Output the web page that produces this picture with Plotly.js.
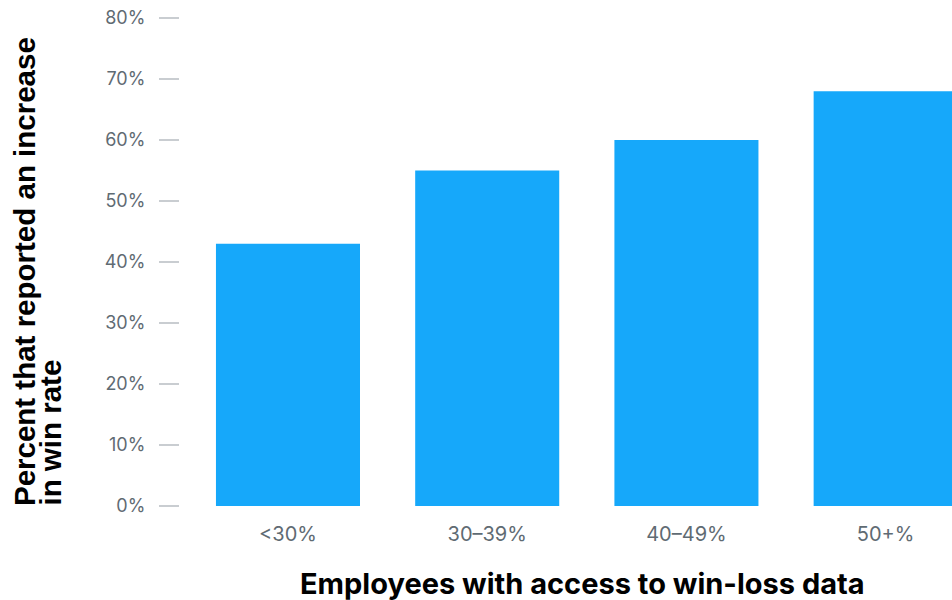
<!DOCTYPE html>
<html>
<head>
<meta charset="utf-8">
<script src="https://cdn.plot.ly/plotly-3.0.1.min.js"></script>
<style>html,body{margin:0;padding:0;background:#fff;}#chart{width:952px;height:600px;}</style>
</head>
<body>
<div id="chart"></div>
<script>
const categories = ["<30%", "30–39%", "40–49%", "50+%"];
const values = [43, 55, 60, 68];
const yTickVals = [0, 10, 20, 30, 40, 50, 60, 70, 80];
const yTickText = ["0%", "10%", "20%", "30%", "40%", "50%", "60%", "70%", "80%"];
const xTitle = "Employees with access to win-loss data";
const yTitleLines = ["Percent that reported an increase", "in win rate"];

const trace = {
  type: "bar",
  x: categories,
  y: values,
  marker: {color: "#16A8FA"},
  hoverinfo: "none"
};

const layout = {
  width: 952, height: 600,
  margin: {l: 180, r: 0, t: 18, b: 94},
  paper_bgcolor: "#fff", plot_bgcolor: "#fff",
  bargap: 0.277,
  showlegend: false,
  font: {family: "Inter, sans-serif", color: "#5f6b73", size: 18},
  xaxis: {
    type: "category",
    range: [-0.542, 3.333],
    showgrid: false, zeroline: false, showline: false, ticks: "",
    tickfont: {family: "Inter", size: 20, color: "#5f6b73"},
    ticklabelstandoff: 14,
    fixedrange: true
  },
  yaxis: {
    range: [0, 80],
    tickvals: yTickVals, ticktext: yTickText,
    showgrid: false, zeroline: false, showline: false,
    ticks: "outside", ticklen: 20, tickwidth: 2, tickcolor: "#c9cdd1",
    tickfont: {family: "Inter", size: 18, color: "#5f6b73"},
    ticklabelstandoff: 10,
    fixedrange: true
  },
  annotations: [
    {text: xTitle, xref: "paper", yref: "paper", x: 0.522, y: -0.158,
     xanchor: "center", yanchor: "middle", showarrow: false,
     font: {family: "Inter", size: 29, color: "#000", weight: 700}},
    {text: yTitleLines[0], xref: "paper", yref: "paper", x: -0.2013, y: -0.004,
     xanchor: "center", yanchor: "bottom", showarrow: false, textangle: -90,
     font: {family: "Liberation Sans, Arial, sans-serif", size: 29.5, color: "#000", weight: 700}},
    {text: yTitleLines[1], xref: "paper", yref: "paper", x: -0.1676, y: -0.004,
     xanchor: "center", yanchor: "bottom", showarrow: false, textangle: -90,
     font: {family: "Liberation Sans, Arial, sans-serif", size: 29.5, color: "#000", weight: 700}}
  ]
};

Plotly.newPlot("chart", [trace], layout, {displayModeBar: false, staticPlot: true});
</script>
</body>
</html>
